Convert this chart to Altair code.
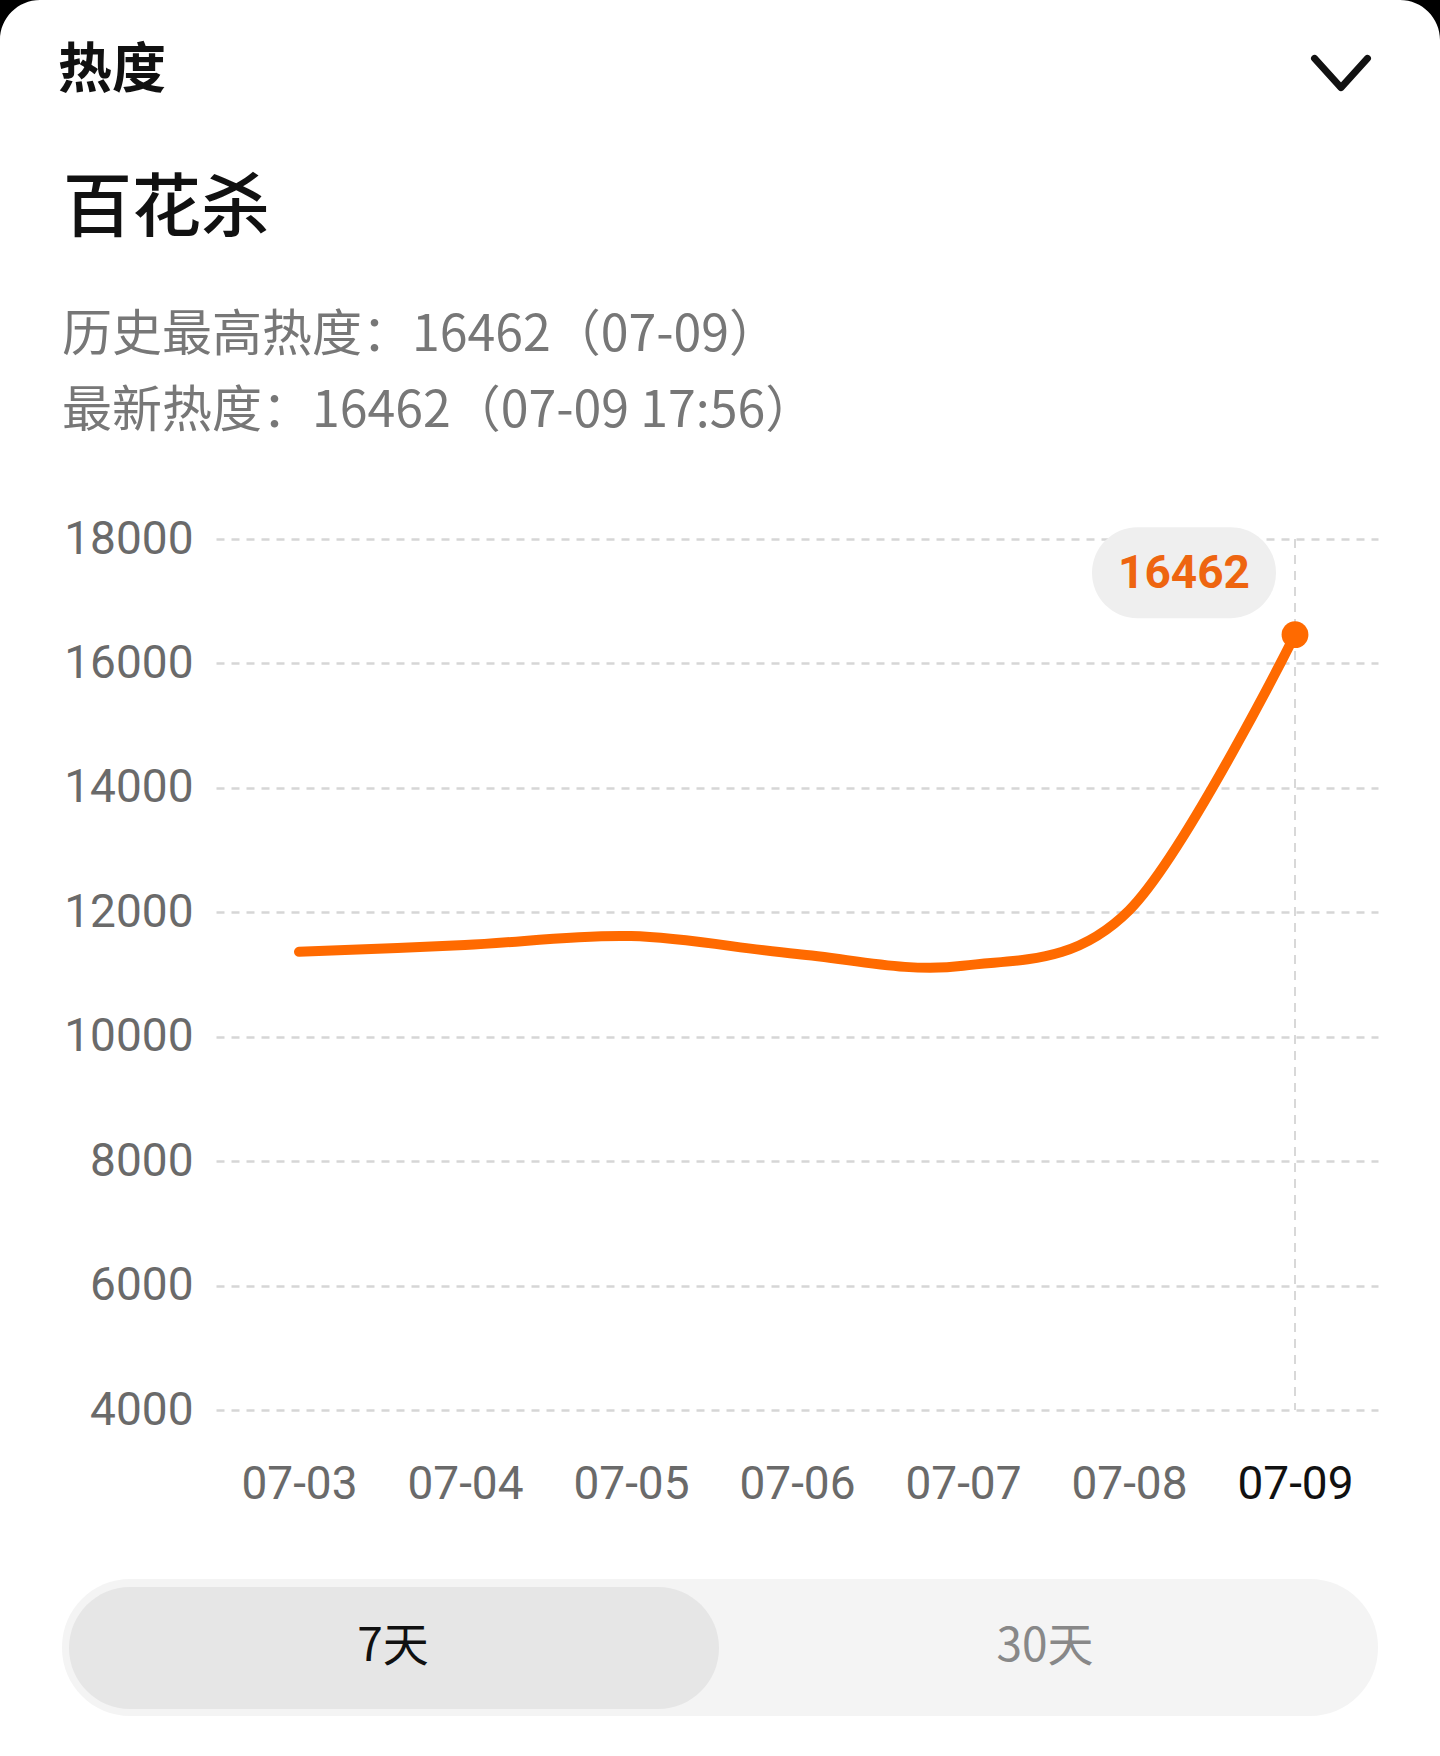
import altair as alt
import pandas as pd

# ---- data ----
dates = ["07-03", "07-04", "07-05", "07-06", "07-07", "07-08", "07-09"]
heat = [11365, 11473, 11617, 11330, 11140, 12030, 16462]
y_ticks = [4000, 6000, 8000, 10000, 12000, 14000, 16000, 18000]
title_small = ["热度"]
title_main = ["百花杀"]
info_lines = ["历史最高热度：16462（07-09）", "最新热度：16462（07-09 17:56）"]
tab_selected = ["7天"]
tab_other = ["30天"]

df = pd.DataFrame({"date": dates, "heat": heat})
last = df.tail(1)

W, H = 1162, 871
PAD = {"left": 216, "top": 539, "right": 62, "bottom": 346}
ORANGE = "#FF6A00"
CJK = "Noto Sans CJK SC"

x_enc = alt.X(
    "date:O",
    scale=alt.Scale(type="point", padding=0.5),
    sort=dates,
    title=None,
    axis=alt.Axis(
        labelAngle=0,
        labelFont="Roboto",
        labelFontSize=46,
        labelColor={"condition": {"test": "datum.value == '07-09'", "value": "#111111"}, "value": "#6a6a6a"},
        labelPadding=52,
        ticks=False,
        domain=False,
        grid=False,
    ),
)
y_enc = alt.Y(
    "heat:Q",
    scale=alt.Scale(domain=[4000, 18000], nice=False, zero=False),
    title=None,
    axis=alt.Axis(
        values=y_ticks,
        format="d",
        labelFont="Roboto",
        labelFontSize=46,
        labelColor="#6a6a6a",
        labelPadding=23,
        ticks=False,
        domain=False,
        grid=True,
        gridDash=[8, 7],
        gridColor="#D6D6D6",
        gridWidth=2.5,
    ),
)

base = alt.Chart(df)

grid_layer = base.mark_line(opacity=0).encode(x=x_enc, y=y_enc)

vrule = alt.Chart(last).mark_rule(color="#CCCCCC", strokeDash=[9, 7], strokeWidth=1.5).encode(
    x=alt.X("date:O", sort=dates)
)

line = base.mark_line(
    interpolate="cardinal", color=ORANGE, strokeWidth=10, strokeCap="round", strokeJoin="round"
).encode(x=alt.X("date:O", sort=dates), y="heat:Q")

dot = alt.Chart(last).mark_circle(size=720, color=ORANGE, opacity=1).encode(
    x=alt.X("date:O", sort=dates), y="heat:Q"
)

capsule = (
    "M-0.5054,-0.4946 L0.5054,-0.4946 A0.4946,0.4946 0 0 1 0.5054,0.4946 "
    "L-0.5054,0.4946 A0.4946,0.4946 0 0 1 -0.5054,-0.4946 Z"
)
badge = alt.Chart(last).mark_point(
    shape=capsule, size=184 * 184, filled=True, fill="#EFEFEF", strokeWidth=0, opacity=1,
    xOffset=-111, yOffset=-62,
).encode(x=alt.X("date:O", sort=dates), y="heat:Q")

badge_text = alt.Chart(last).mark_text(
    font="Roboto", fontSize=46, fontWeight="bold", color="#EE6510", dx=-111, dy=-61,
    align="center", baseline="middle",
).encode(x=alt.X("date:O", sort=dates), y="heat:Q", text=alt.Text("heat:Q", format="d"))

# header texts
t_small = alt.Chart(pd.DataFrame({"t": title_small})).mark_text(
    font=CJK, fontSize=54, fontWeight="bold", color="#111111", align="left", baseline="middle"
).encode(text="t:N", x=alt.value(-158), y=alt.value(-467))

t_main = alt.Chart(pd.DataFrame({"t": title_main})).mark_text(
    font=CJK, fontSize=69, fontWeight=500, color="#111111", align="left", baseline="middle"
).encode(text="t:N", x=alt.value(-153), y=alt.value(-329))

t_info1 = alt.Chart(pd.DataFrame({"t": info_lines[:1]})).mark_text(
    font=CJK, fontSize=50, color="#777777", align="left", baseline="middle"
).encode(text="t:N", x=alt.value(-154), y=alt.value(-203))

t_info2 = alt.Chart(pd.DataFrame({"t": info_lines[1:]})).mark_text(
    font=CJK, fontSize=50, color="#777777", align="left", baseline="middle"
).encode(text="t:N", x=alt.value(-154), y=alt.value(-127))

chevron = alt.Chart(pd.DataFrame({"k": [0]})).mark_point(
    shape="M-1,-0.55 L0,0.55 L1,-0.55", size=2800, filled=False, stroke="#111111",
    strokeWidth=7, strokeCap="round", strokeJoin="round", opacity=1,
).encode(x=alt.value(1125), y=alt.value(-466))

# black rounded screen corners
corner_tl = alt.Chart(pd.DataFrame({"k": [0]})).mark_point(
    shape="M-1,-1 L1,-1 A2,2 0 0 0 -1,1 Z", size=1600, filled=True, fill="black",
    strokeWidth=0, opacity=1,
).encode(x=alt.value(-196), y=alt.value(-519))
corner_tr = alt.Chart(pd.DataFrame({"k": [0]})).mark_point(
    shape="M1,-1 L-1,-1 A2,2 0 0 1 1,1 Z", size=1600, filled=True, fill="black",
    strokeWidth=0, opacity=1,
).encode(x=alt.value(1204), y=alt.value(-519))

# bottom toggle
outer = alt.Chart(pd.DataFrame({"k": [0]})).mark_rect(color="#F4F4F4", cornerRadius=68).encode(
    x=alt.value(-154), x2=alt.value(1162), y=alt.value(1040), y2=alt.value(1177)
)
inner = alt.Chart(pd.DataFrame({"k": [0]})).mark_rect(color="#E6E6E6", cornerRadius=61).encode(
    x=alt.value(-147), x2=alt.value(503), y=alt.value(1048), y2=alt.value(1170)
)
tab1 = alt.Chart(pd.DataFrame({"t": tab_selected})).mark_text(
    font=CJK, fontSize=46, color="#111111", align="center", baseline="middle"
).encode(text="t:N", x=alt.value(177), y=alt.value(1108))
tab2 = alt.Chart(pd.DataFrame({"t": tab_other})).mark_text(
    font=CJK, fontSize=46, color="#888888", align="center", baseline="middle"
).encode(text="t:N", x=alt.value(829), y=alt.value(1108))

chart = alt.layer(
    grid_layer, vrule, line, dot, badge, badge_text,
    t_small, t_main, t_info1, t_info2, chevron, corner_tl, corner_tr,
    outer, inner, tab1, tab2,
).properties(
    width=W, height=H, padding=PAD, autosize=alt.AutoSizeParams(type="none"), background="white"
).configure_view(stroke=None)

chart.save("out.html", embed_options={"renderer": "svg", "actions": False})
